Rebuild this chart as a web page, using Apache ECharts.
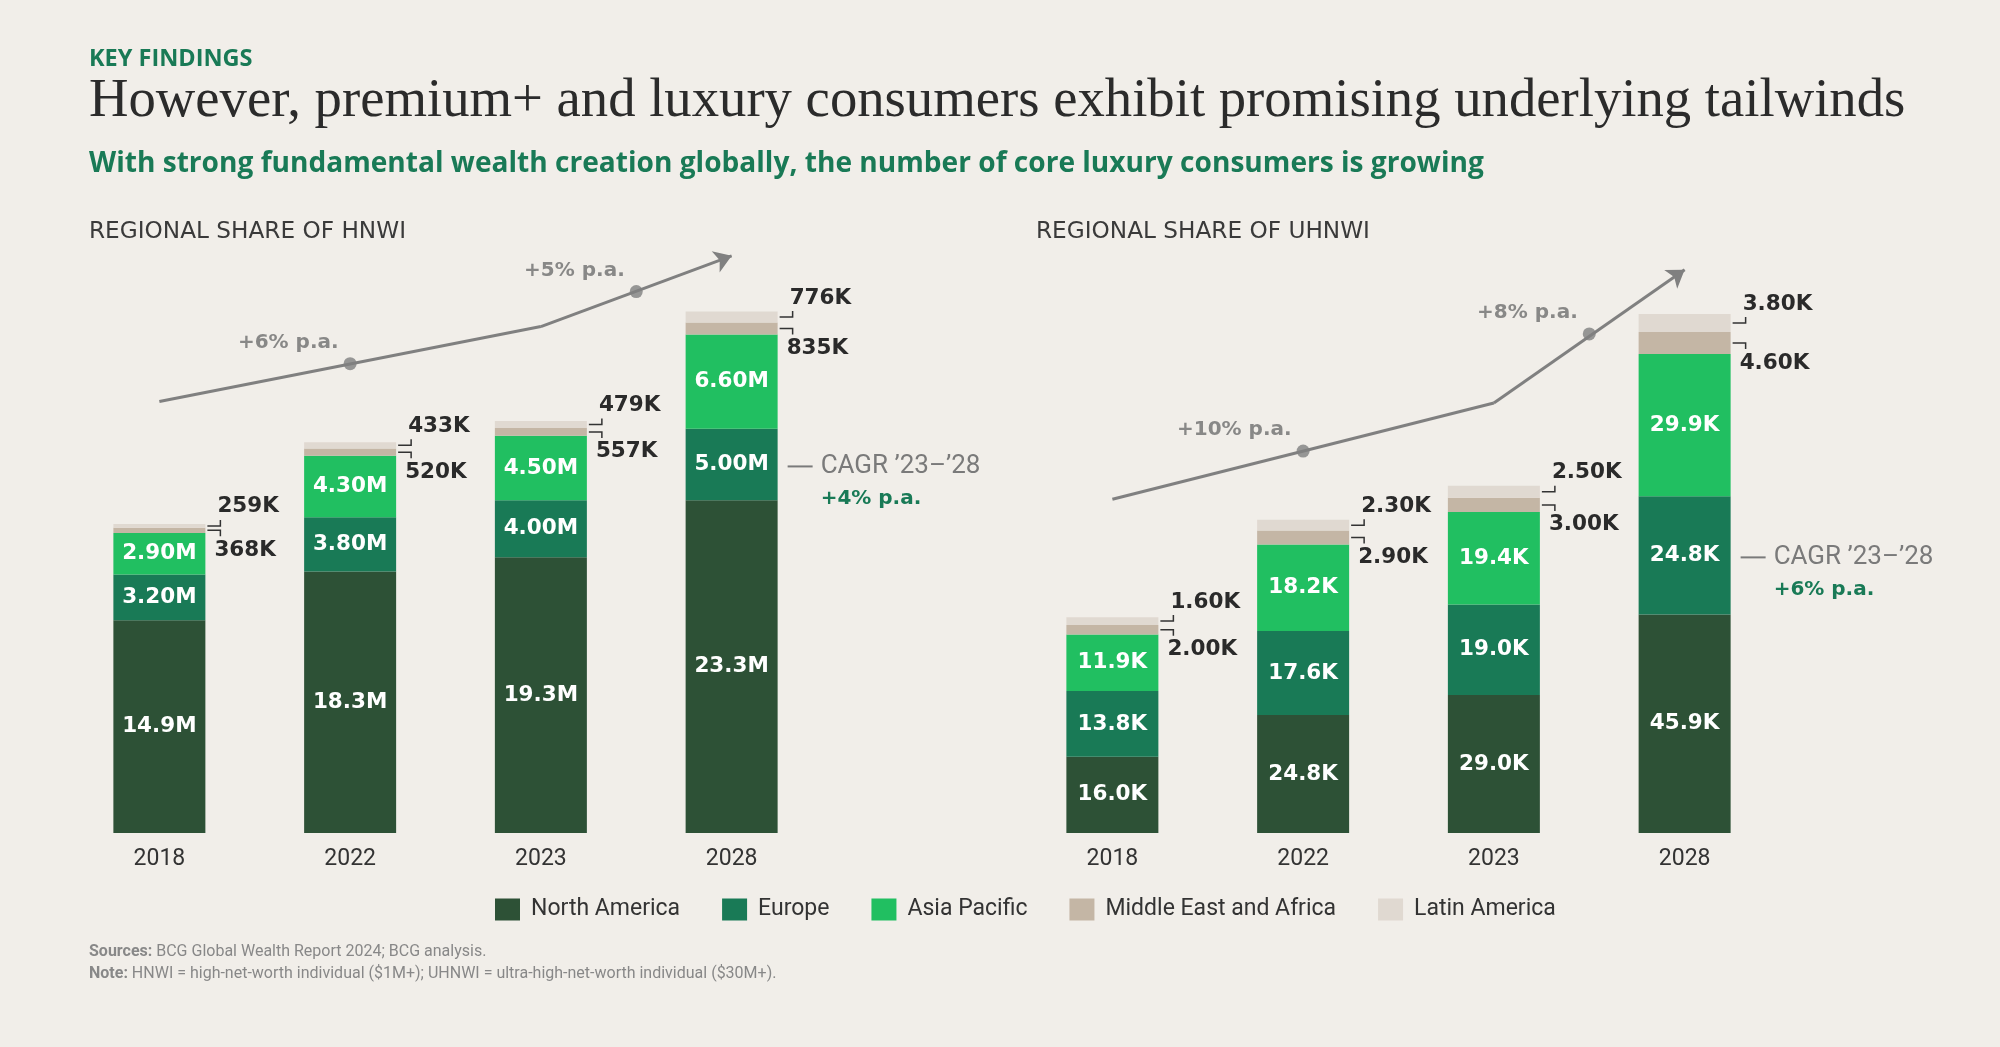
<!DOCTYPE html>
<html><head><meta charset="utf-8">
<script src="https://cdn.jsdelivr.net/npm/echarts@6/dist/echarts.min.js"></script>
<style>html,body{margin:0;padding:0;background:#f1eee9;} #chart{width:2000px;height:1047px;}</style>
</head><body><div id="chart"></div>
<script>
// ---------- DATA ----------
const categories = ['2018', '2022', '2023', '2028'];
const regions = ['North America', 'Europe', 'Asia Pacific', 'Middle East and Africa', 'Latin America'];

// HNWI, millions
const hnwiNorthAmerica = [14.9, 18.3, 19.3, 23.3];
const hnwiEurope = [3.2, 3.8, 4.0, 5.0];
const hnwiAsiaPacific = [2.9, 4.3, 4.5, 6.6];
const hnwiMiddleEastAfrica = [0.368, 0.520, 0.557, 0.835];
const hnwiLatinAmerica = [0.259, 0.433, 0.479, 0.776];

// UHNWI, thousands
const uhnwiNorthAmerica = [16.0, 24.8, 29.0, 45.9];
const uhnwiEurope = [13.8, 17.6, 19.0, 24.8];
const uhnwiAsiaPacific = [11.9, 18.2, 19.4, 29.9];
const uhnwiMiddleEastAfrica = [2.0, 2.9, 3.0, 4.6];
const uhnwiLatinAmerica = [1.6, 2.3, 2.5, 3.8];

// trend arrows (value per category, null = no vertex) and their labels
const hnwiTrend = [30.2, null, 35.45, 40.4];
const hnwiTrendDots = [[1, 32.85], [2.5, 37.9]];
const hnwiGrowth = ['+6% p.a.', '+5% p.a.'];
const hnwiCagr = ['CAGR \u201923\u2013\u201928', '+4% p.a.'];

const uhnwiTrend = [70.1, null, 90.3, 118.3];
const uhnwiTrendDots = [[1, 80.2], [2.5, 104.8]];
const uhnwiGrowth = ['+10% p.a.', '+8% p.a.'];
const uhnwiCagr = ['CAGR \u201923\u2013\u201928', '+6% p.a.'];

// ---------- STYLE ----------
const REG = 'Roboto, "Noto Sans", sans-serif';
const BOLD = '"DejaVu Sans", sans-serif';
const HEAD = '"Open Sans", "Noto Sans", sans-serif';
const SERIF = '"Liberation Serif", "DejaVu Serif", serif';
const COLORS = ['#2d5136', '#197a56', '#21bf61', '#c4b6a5', '#e0d9d1'];
const GREEN = '#197a56';
const DARK = '#2a2a2a';
const GRAY = '#7a7a7a';
const BAR_W = 92;

const fmtH = v => v >= 1 ? v.toPrecision(3) + 'M' : Math.round(v * 1000).toPrecision(3) + 'K';
const fmtU = v => v.toPrecision(3) + 'K';

const chart = echarts.init(document.getElementById('chart'), null, {renderer: 'canvas'});

function panel(p) {
  const series = [];
  const stacks = [p.na, p.eu, p.ap, p.me, p.la];
  stacks.forEach((arr, k) => {
    series.push({
      name: regions[k], type: 'bar', stack: p.stack, barWidth: BAR_W,
      xAxisIndex: p.xc, yAxisIndex: p.y,
      itemStyle: {color: COLORS[k]},
      label: k < 3 ? {
        show: true, position: 'inside', color: '#ffffff',
        fontFamily: BOLD, fontWeight: 'bold', fontSize: 21.5,
        formatter: o => p.fmt(o.value)
      } : {show: false},
      emphasis: {disabled: true},
      data: arr
    });
  });
  // side labels for the two small segments
  const sideData = categories.map((c, i) => [i, p.na[i] + p.eu[i] + p.ap[i], p.me[i], p.la[i]]);
  series.push({
    type: 'custom', xAxisIndex: p.xc, yAxisIndex: p.y, z: 5,
    encode: {x: 0, y: 1},
    data: sideData,
    renderItem: (params, api) => {
      const i = api.value(0), base = api.value(1), me = api.value(2), la = api.value(3);
      const pMe = api.coord([i, base + me / 2]);
      const pLa = api.coord([i, base + me + la / 2]);
      const xr = pMe[0] + BAR_W / 2;
      const lineStyle = {stroke: '#333', lineWidth: 1.5, fill: null};
      const txt = (x, y, t) => ({type: 'text', x: x, y: y,
        style: {text: t, fill: DARK, fontFamily: BOLD, fontWeight: 'bold', fontSize: 21.5, align: 'left', verticalAlign: 'middle'}});
      return {type: 'group', children: [
        {type: 'polyline', shape: {points: [[xr + 2, pLa[1]], [xr + 15, pLa[1]], [xr + 15, pLa[1] - 6]]}, style: lineStyle},
        {type: 'polyline', shape: {points: [[xr + 2, pMe[1]], [xr + 15, pMe[1]], [xr + 15, pMe[1] + 6]]}, style: lineStyle},
        txt(xr + 12, pLa[1] - 19, p.fmt(la)),
        txt(xr + 9, pMe[1] + 20, p.fmt(me))
      ]};
    }
  });
  // CAGR annotation on last bar
  const last = categories.length - 1;
  series.push({
    type: 'custom', xAxisIndex: p.xc, yAxisIndex: p.y, z: 5,
    encode: {x: 0, y: 1},
    data: [[last, p.na[last], p.eu[last]]],
    renderItem: (params, api) => {
      const pt = api.coord([api.value(0), api.value(1) + api.value(2) / 2]);
      const xr = pt[0] + BAR_W / 2;
      const y = pt[1] + 2;
      return {type: 'group', children: [
        {type: 'line', shape: {x1: xr + 10, y1: y, x2: xr + 35, y2: y}, style: {stroke: GRAY, lineWidth: 2}},
        {type: 'text', x: xr + 43, y: y, style: {text: p.cagr[0], fill: GRAY, fontFamily: REG, fontSize: 26, align: 'left', verticalAlign: 'middle'}},
        {type: 'text', x: xr + 43, y: y + 32, style: {text: p.cagr[1], fill: GREEN, fontFamily: BOLD, fontWeight: 'bold', fontSize: 20, align: 'left', verticalAlign: 'middle'}}
      ]};
    }
  });
  // trend line
  const pts = p.trend.map((v, i) => v == null ? null : [i, v]).filter(Boolean);
  for (let s = 0; s < pts.length - 1; s++) {
    const isLast = s === pts.length - 2;
    series.push({
      type: 'lines', coordinateSystem: 'cartesian2d', xAxisIndex: p.xv, yAxisIndex: p.y, z: 6,
      symbol: isLast ? ['none', 'arrow'] : ['none', 'none'], symbolSize: 17,
      lineStyle: {color: '#808080', width: 3, opacity: 1, curveness: 0},
      data: [{coords: [pts[s], pts[s + 1]]}]
    });
  }
  series.push({
    type: 'scatter', xAxisIndex: p.xv, yAxisIndex: p.y, z: 7,
    symbolSize: 13, itemStyle: {color: '#808080'},
    label: {show: true, position: 'left', distance: 5, offset: [0, -21],
      formatter: o => p.growth[o.dataIndex],
      color: '#6e6e6e', fontFamily: BOLD, fontWeight: 'bold', fontSize: 20},
    emphasis: {disabled: true},
    data: p.dots
  });
  return series;
}

const series = [].concat(
  panel({stack: 'h', xc: 0, xv: 1, y: 0, na: hnwiNorthAmerica, eu: hnwiEurope, ap: hnwiAsiaPacific,
    me: hnwiMiddleEastAfrica, la: hnwiLatinAmerica, fmt: fmtH, trend: hnwiTrend, dots: hnwiTrendDots,
    growth: hnwiGrowth, cagr: hnwiCagr}),
  panel({stack: 'u', xc: 2, xv: 3, y: 1, na: uhnwiNorthAmerica, eu: uhnwiEurope, ap: uhnwiAsiaPacific,
    me: uhnwiMiddleEastAfrica, la: uhnwiLatinAmerica, fmt: fmtU, trend: uhnwiTrend, dots: uhnwiTrendDots,
    growth: uhnwiGrowth, cagr: uhnwiCagr})
);

const catAxis = gi => ({
  type: 'category', gridIndex: gi, data: categories,
  axisLine: {show: false}, axisTick: {show: false}, splitLine: {show: false},
  axisLabel: {color: '#333', fontFamily: REG, fontSize: 23, margin: 15}
});
const valX = gi => ({type: 'value', gridIndex: gi, min: -0.5, max: 3.5, show: false});

chart.setOption({
  backgroundColor: '#f1eee9',
  animation: false,
  grid: [
    {left: 64, top: 233, width: 763, height: 600},
    {left: 1017, top: 233, width: 763, height: 600}
  ],
  xAxis: [catAxis(0), valX(0), catAxis(1), valX(1)],
  yAxis: [
    {type: 'value', gridIndex: 0, min: 0, max: 42, show: false},
    {type: 'value', gridIndex: 1, min: 0, max: 126, show: false}
  ],
  legend: {
    data: regions, left: 495, top: 898, padding: 0, icon: 'rect', itemWidth: 25, itemHeight: 22, itemGap: 42,
    textStyle: {color: '#333', fontFamily: REG, fontSize: 23, padding: [0, 0, 0, 6]},
    selectedMode: false
  },
  series: series,
  graphic: [
    {type: 'text', left: 89, top: 47, style: {text: 'KEY FINDINGS', fill: GREEN, font: 'bold 23.5px ' + HEAD}},
    {type: 'text', left: 89, top: 74, style: {text: 'However, premium+ and luxury consumers exhibit promising underlying tailwinds', fill: '#2b2b2b', font: '54.7px ' + SERIF}},
    {type: 'text', left: 89, top: 150, style: {text: 'With strong fundamental wealth creation globally, the number of core luxury consumers is growing', fill: GREEN, font: 'bold 28.1px ' + HEAD}},
    {type: 'text', left: 89, top: 220, style: {text: 'REGIONAL SHARE OF HNWI', fill: '#3a3a3a', font: '23.2px "DejaVu Sans", sans-serif'}},
    {type: 'text', left: 1036, top: 220, style: {text: 'REGIONAL SHARE OF UHNWI', fill: '#3a3a3a', font: '23.2px "DejaVu Sans", sans-serif'}},
    {type: 'text', left: 89, top: 944, style: {
      text: '{b|Sources:} BCG Global Wealth Report 2024; BCG analysis.',
      rich: {b: {fontWeight: 'bold', fill: '#888', fontFamily: REG, fontSize: 16}},
      fill: '#888', fontFamily: REG, fontSize: 16}},
    {type: 'text', left: 89, top: 966, style: {
      text: '{b|Note:} HNWI = high-net-worth individual ($1M+); UHNWI = ultra-high-net-worth individual ($30M+).',
      rich: {b: {fontWeight: 'bold', fill: '#888', fontFamily: REG, fontSize: 16}},
      fill: '#888', fontFamily: REG, fontSize: 16}}
  ]
});
</script>
</body></html>
